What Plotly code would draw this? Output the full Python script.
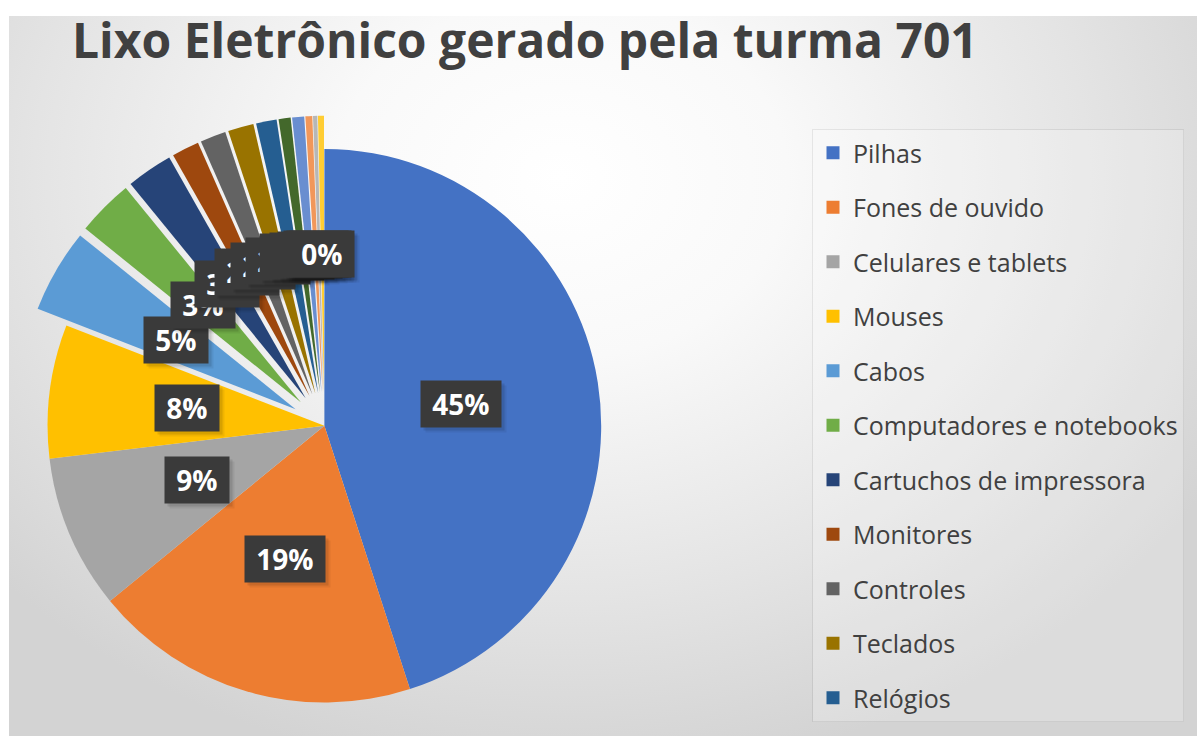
import math
import plotly.graph_objects as go

W, H = 1197, 736

# --- dados -------------------------------------------------------------
categorias = [
    "Pilhas", "Fones de ouvido", "Celulares e tablets", "Mouses", "Cabos",
    "Computadores e notebooks", "Cartuchos de impressora", "Monitores",
    "Controles", "Teclados", "Relógios", "Carregadores", "Impressoras",
    "Câmeras", "Rádios", "Calculadoras",
]
percentuais = [45.0, 19.1, 9.0, 7.8, 4.9, 3.3, 2.7, 1.6, 1.5, 1.5, 1.2,
               0.7, 0.7, 0.4, 0.25, 0.35]
cores = [
    "#4472C4", "#ED7D31", "#A5A5A5", "#FFC000", "#5B9BD5", "#70AD47",
    "#264478", "#9E480E", "#636363", "#997300", "#255E91", "#43682B",
    "#698ED0", "#F1975A", "#B7B7B7", "#FFCD33",
]
destaque = [0, 0, 0, 0] + [0.12] * 12
itens_legenda = 11  # a caixa da legenda só comporta os primeiros itens

titulo = "Lixo Eletrônico gerado pela turma 701"

# --- geometria da pizza (mesma regra usada pelo plotly) ------------------
dom_x = [0.012, 0.530]
dom_y = [0.0, 0.843]
box_w = W * (dom_x[1] - dom_x[0])
box_h = H * (dom_y[1] - dom_y[0])
raio = min(box_w, box_h) / 2 / (1 + max(destaque))
cx = W * (dom_x[0] + dom_x[1]) / 2
cy = H * (1 - dom_y[0]) - box_h / 2

total = sum(percentuais)
rotulos = [f"{int(v / total * 100 + 0.5)}%" for v in percentuais]

fig = go.Figure()

# fundo com degradê radial
fig.add_trace(go.Scatter(
    x=[-0.17, 1.10, 1.10, -0.17, -0.17],
    y=[-0.06, -0.06, 1.61, 1.61, -0.06],
    mode="lines", fill="toself", line=dict(width=0),
    fillgradient=dict(
        type="radial",
        colorscale=[[0, "#ffffff"], [0.3, "#f9f9f9"], [0.7, "#e4e4e4"], [1, "#d3d3d3"]],
    ),
    hoverinfo="skip", showlegend=False,
))

fig.add_trace(go.Pie(
    labels=categorias, values=percentuais, sort=False,
    direction="clockwise", rotation=0, pull=destaque,
    marker=dict(colors=cores, line=dict(width=0)),
    textinfo="none", showlegend=False,
    domain=dict(x=dom_x, y=dom_y),
    hoverinfo="label+percent",
))

# entradas da legenda
for nome, cor in zip(categorias[:itens_legenda], cores[:itens_legenda]):
    fig.add_trace(go.Scatter(
        x=[None], y=[None], mode="markers", name=nome, legendgroup=nome,
        marker=dict(symbol="square", size=13, color=cor),
        showlegend=True,
    ))

# rótulos de dados em caixas escuras (com sombra), no meio de cada fatia
anotacoes = []
acumulado = 0.0
for v, txt, p in zip(percentuais, rotulos, destaque):
    meio = (acumulado + v / 2) / total * 2 * math.pi
    acumulado += v
    d = (0.5 + p) * raio
    px = cx + d * math.sin(meio)
    py = cy - d * math.cos(meio)
    base = dict(
        x=px / W, y=1 - py / H, xref="paper", yref="paper",
        xanchor="center", yanchor="middle", showarrow=False,
        text=f"&nbsp;{txt}&nbsp;", borderpad=4,
    )
    for k, alpha in ((5, 0.06), (3, 0.10)):
        anotacoes.append(dict(
            base, xshift=k, yshift=-k,
            font=dict(family="Open Sans", size=28, color="rgba(0,0,0,0)", weight="bold"),
            bgcolor=f"rgba(0,0,0,{alpha})",
        ))
    anotacoes.append(dict(
        base,
        font=dict(family="Open Sans", size=28, color="white", weight="bold"),
        bgcolor="#3a3a3a",
    ))

fig.update_layout(
    width=W, height=H,
    margin=dict(l=0, r=0, t=0, b=0),
    paper_bgcolor="white", plot_bgcolor="white",
    title=dict(
        text=titulo, x=72 / W, xanchor="left", xref="container",
        y=1 - 41 / H, yanchor="middle", yref="container",
        font=dict(family="Open Sans", size=48, color="#404040", weight="bold"),
    ),
    xaxis=dict(domain=[9 / W, 1], range=[0, 1], visible=False, fixedrange=True),
    yaxis=dict(domain=[0, 1 - 16 / H], range=[0, 1], visible=False, fixedrange=True),
    legend=dict(
        x=812 / W, xanchor="left", y=1 - 129 / H, yanchor="top",
        bgcolor="rgba(255,255,255,0.22)", bordercolor="rgba(0,0,0,0.07)", borderwidth=1,
        font=dict(family="Open Sans", size=25, color="#404040"),
        traceorder="grouped", tracegroupgap=19,
    ),
    annotations=anotacoes,
    showlegend=True,
)

fig.write_html("out.html")
